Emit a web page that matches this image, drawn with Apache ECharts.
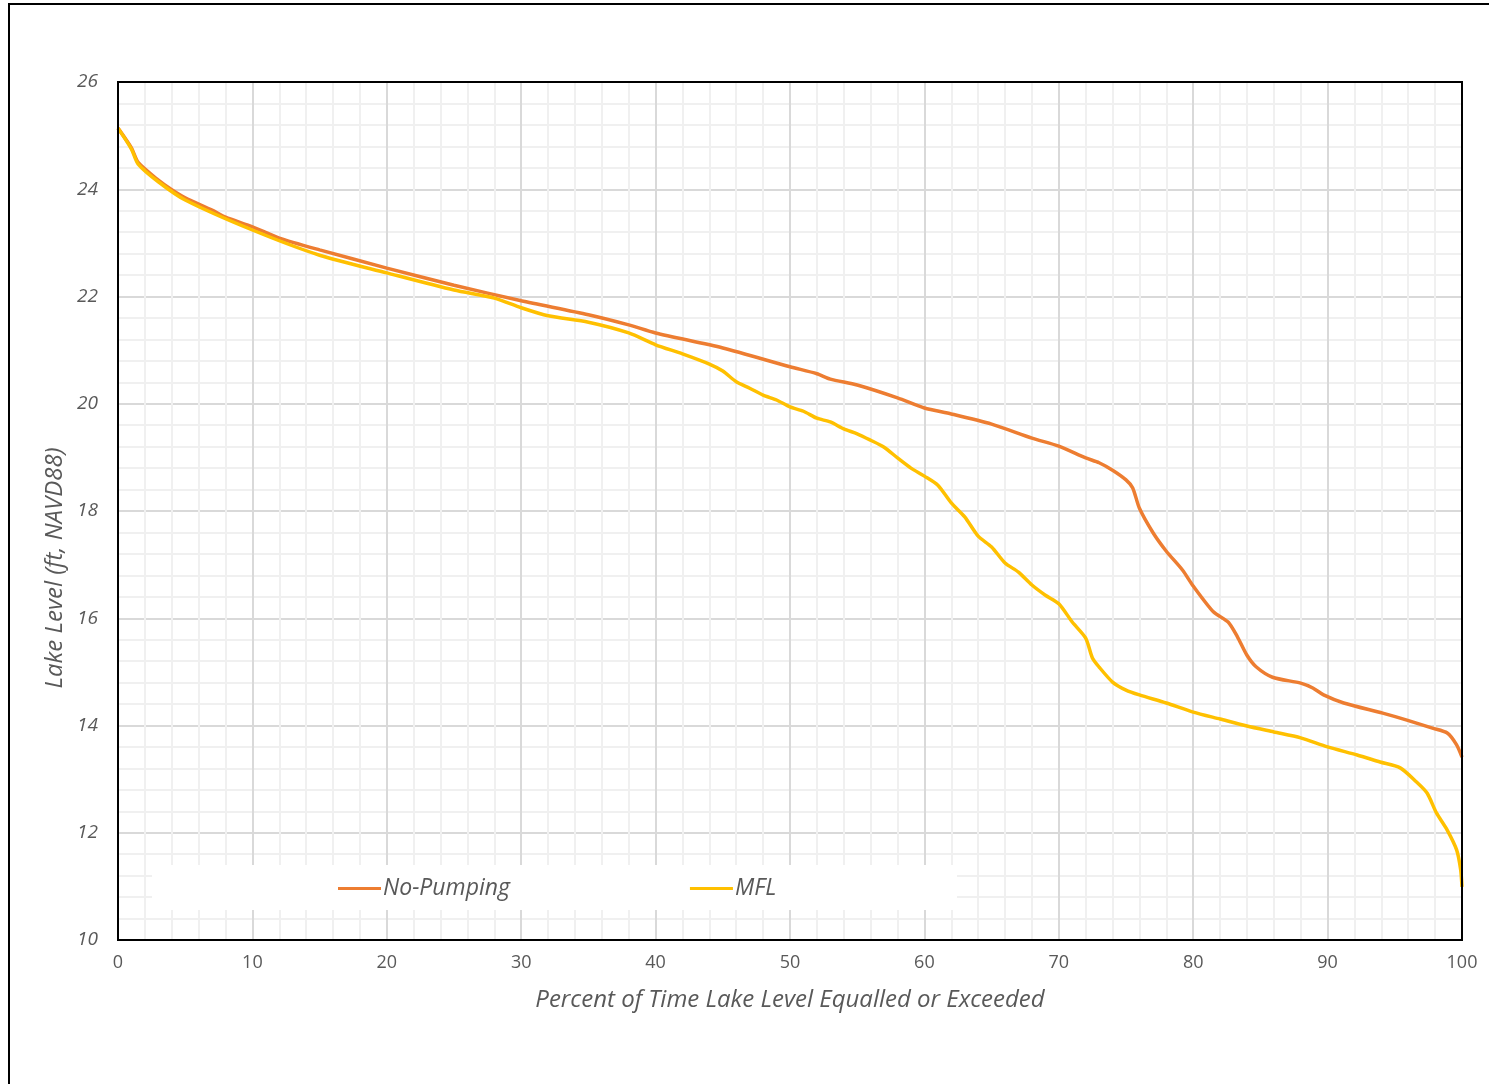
<!DOCTYPE html>
<html>
<head>
<meta charset="utf-8">
<script src="https://cdn.jsdelivr.net/npm/echarts@6/dist/echarts.min.js"></script>
<style>
  html, body { margin: 0; padding: 0; background: #fff; }
  #main { width: 1489px; height: 1084px; }
</style>
</head>
<body>
<div id="main"></div>
<script>
// percent of time (x) and lake level (y)
var noPumpPct = [0, 1, 1.5, 3, 4, 5, 7, 8, 10, 12, 15, 20, 25, 30, 35, 38, 40, 45, 50, 52, 53, 55, 58, 60, 62, 65, 68, 70, 72, 73, 74, 75, 75.5, 76, 77, 78, 79.2, 80, 81.5, 82.6, 83.3, 84, 84.7, 85.9, 88, 88.9, 89.7, 91.2, 94.1, 95.9, 97.8, 98.9, 99.6, 100];
var noPumpLvl = [25.14, 24.77, 24.5, 24.17, 23.99, 23.84, 23.61, 23.48, 23.3, 23.09, 22.87, 22.53, 22.21, 21.92, 21.66, 21.47, 21.32, 21.04, 20.69, 20.56, 20.46, 20.35, 20.11, 19.92, 19.81, 19.62, 19.36, 19.21, 18.99, 18.9, 18.76, 18.58, 18.43, 18.05, 17.6, 17.25, 16.9, 16.6, 16.12, 15.93, 15.65, 15.31, 15.09, 14.9, 14.79, 14.7, 14.57, 14.42, 14.23, 14.1, 13.95, 13.86, 13.64, 13.41];

var mflPct = [0, 1, 1.5, 3, 5, 10, 15, 20, 25, 28, 30, 32, 35, 38, 40, 42, 44, 45, 46, 47, 48, 49, 50, 51, 52, 53, 54, 55, 56, 57, 58, 59, 60, 61, 62, 63, 64, 65, 66, 67, 68, 69, 70, 71, 72, 72.5, 73, 74, 75, 76, 78, 80, 82, 84, 86, 88, 90, 92.2, 93.9, 95.4, 96.6, 97.4, 98.1, 98.9, 99.6, 99.9, 100];
var mflLvl = [25.14, 24.75, 24.47, 24.14, 23.8, 23.24, 22.77, 22.44, 22.12, 21.97, 21.79, 21.64, 21.52, 21.32, 21.1, 20.93, 20.74, 20.61, 20.41, 20.29, 20.16, 20.07, 19.94, 19.86, 19.73, 19.66, 19.53, 19.44, 19.32, 19.19, 18.99, 18.8, 18.65, 18.48, 18.15, 17.89, 17.53, 17.33, 17.03, 16.86, 16.62, 16.43, 16.27, 15.93, 15.63, 15.26, 15.09, 14.81, 14.66, 14.57, 14.42, 14.25, 14.12, 13.99, 13.88, 13.77, 13.6, 13.45, 13.32, 13.21, 12.95, 12.74, 12.37, 12.05, 11.68, 11.31, 10.99];

function pairs(xs, ys){
    var out = [];
    for(var i=0;i<xs.length;i++){
        out.push([xs[i], ys[i]]);
    }
    return out;
}

var chart = echarts.init(document.getElementById('main'));
var grey = '#595959';
var font = '"Open Sans", "DejaVu Sans", sans-serif';

chart.setOption({
    animation: false,
    backgroundColor: '#fff',
    grid: {left: 118, top: 82, right: 27, bottom: 144},
    xAxis: {
        type: 'value', min: 0, max: 100, interval: 10,
        axisLine: {show: false},
        axisTick: {show: false},
        axisLabel: {color: grey, fontSize: 18, fontFamily: font, margin: 14},
        splitLine: {show: true, lineStyle: {color: '#d9d9d9', width: 2}},
        minorTick: {show: false, splitNumber: 5},
        minorSplitLine: {show: true, lineStyle: {color: '#f0f0f0', width: 2}}
    },
    yAxis: {
        type: 'value', min: 10, max: 26, interval: 2,
        axisLine: {show: false},
        axisTick: {show: false},
        axisLabel: {color: grey, fontSize: 19, fontStyle: 'italic', fontFamily: font, margin: 20},
        splitLine: {show: true, lineStyle: {color: '#d9d9d9', width: 2}},
        minorTick: {show: false, splitNumber: 5},
        minorSplitLine: {show: true, lineStyle: {color: '#f0f0f0', width: 2}}
    },
    legend: {
        left: 333, top: 872,
        itemWidth: 43, itemHeight: 3, itemGap: 180,
        icon: 'rect',
        textStyle: {color: grey, fontSize: 23, fontStyle: 'italic', fontFamily: font, padding: [0, 0, 0, -3]},
        data: ['No-Pumping', 'MFL']
    },
    graphic: [
        {type: 'rect', z: 1, silent: true, shape: {x: 152, y: 865, width: 805, height: 45}, style: {fill: '#fff'}},
        {type: 'rect', z: 5, silent: true, shape: {x: 118, y: 82, width: 1344, height: 858}, style: {fill: 'none', stroke: '#000', lineWidth: 2}},
        {type: 'line', z: 10, shape: {x1: 8, y1: 4, x2: 1489, y2: 4}, style: {stroke: '#000', lineWidth: 2}},
        {type: 'line', z: 10, shape: {x1: 9, y1: 3, x2: 9, y2: 1084}, style: {stroke: '#000', lineWidth: 2}},
        {type: 'text', x: 790, y: 1000, style: {text: 'Percent of Time Lake Level Equalled or Exceeded', fill: grey, font: 'italic 24px ' + font, align: 'center', verticalAlign: 'middle'}},
        {type: 'text', x: 55, y: 568, rotation: Math.PI / 2, style: {text: 'Lake Level (ft, NAVD88)', fill: grey, font: 'italic 24px ' + font, align: 'center', verticalAlign: 'middle'}}
    ],
    series: [
        {
            name: 'No-Pumping', type: 'line', showSymbol: false, z: 3,
            smooth: 0.25,
            color: '#ED7D31', lineStyle: {width: 3.5, color: '#ED7D31'},
            data: pairs(noPumpPct, noPumpLvl)
        },
        {
            name: 'MFL', type: 'line', showSymbol: false, z: 3,
            smooth: 0.25,
            color: '#FFC000', lineStyle: {width: 3.5, color: '#FFC000'},
            data: pairs(mflPct, mflLvl)
        }
    ]
});
</script>
</body>
</html>
